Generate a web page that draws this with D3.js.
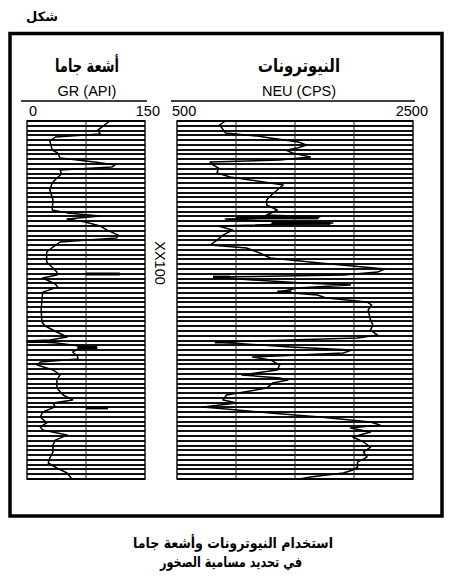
<!DOCTYPE html>
<html>
<head>
<meta charset="utf-8">
<script src="https://cdn.jsdelivr.net/npm/d3@7"></script>
<style>
  body { margin: 0; background: #fff; }
  svg { display: block; }
  .ar { font-family: "DejaVu Sans", sans-serif; font-weight: bold; }
  .lat { font-family: "Liberation Sans", Arial, sans-serif; }
</style>
</head>
<body>
<div id="chart"></div>
<script>
// depth in ft below top of the logged interval, GR in API, NEU in CPS
const grDepth = [0, 1.3, 3.8, 5.4, 6.7, 8.4, 12.2, 13.4, 15.5, 17.2, 18.4, 19.3, 20.5, 22.2, 23.9, 26, 28.9, 33.1, 37.3,
  38.5, 39.8, 41.1, 42.3, 44, 45.7, 47.8, 49, 50.7, 52.8, 54.9, 59.1, 61.6, 63.3, 64.5, 65.8, 68.3, 69.6, 71.7, 75,
  79.2, 84.2, 85.9, 88.4, 90.5, 91.8, 92.2, 93, 94.3, 95.1, 95.5, 96.8, 98.5, 99.7, 101, 102.2, 104.3, 106.4, 108.5,
  111.9, 114.8, 116.9, 118.2, 119.8, 121.9, 124, 126.5, 128.2, 129.5, 131.6, 133.7, 135.8, 138.7, 141.2, 143.3,
  145.4, 147.5, 150];
const grValues = [105, 100, 90, 93, 36, 29, 32, 39, 42, 86, 112, 108, 42, 44, 38, 32, 29, 33, 32,
  51, 93, 51, 74, 93, 102, 116, 114, 42, 33, 25, 25, 33, 38, 38, 20, 36, 39, 20, 19,
  18, 19, 23, 38, 51, 29, 0, 38, 67, 89, 65, 58, 64, 65, 17, 13, 33, 42, 38,
  38, 46, 58, 33, 36, 20, 17, 25, 17, 20, 51, 36, 33, 33, 29, 27,
  38, 51, 57];

const neuDepth = [0, 1.7, 2.9, 5, 6.3, 7.1, 8.8, 10.1, 11.3, 12.2, 13.4, 15.1, 16.3, 17.2, 18.4, 19.7, 21.8, 23.5,
  24.7, 26, 26.8, 28.9, 31, 33.1, 35.2, 37.3, 39.4, 40.2, 41.1, 41.9, 42.7, 44, 45.7, 47.8, 49.9, 52, 53.2, 55.3,
  57.4, 59.5, 61.2, 62, 63.3, 64.5, 65.4, 66.6, 67.9, 68.7, 70, 71.6, 72.9, 74.2, 75.8, 77.1, 79.2, 81.3, 83.4,
  85.5, 87.6, 89.7, 90.9, 92.6, 94.7, 96, 97.2, 98.9, 100.1, 102.2, 104.3, 106.4, 107.7, 108.5, 109.8, 111.9,
  114.8, 116.9, 118.2, 119.8, 121.1, 122.3, 124, 126.1, 127.4, 128.6, 130.3, 132.4, 134.5, 136.6, 138.7, 140.8,
  142.9, 145, 146.2, 147.5, 149.2, 150];
const neuValues = [910, 860, 880, 910, 1180, 1290, 1530, 1600, 1520, 1420, 1480, 1630, 1370, 780, 805, 850, 840, 950,
  1120, 1290, 1400, 1350, 1300, 1260, 1260, 1350, 1260, 1710, 910, 1220, 1820, 850, 970, 890, 840, 780, 1090, 1200,
  1290, 1710, 2080, 2260, 2200, 1910, 810, 1140, 1570, 1970, 1520, 1370, 1690, 1770, 2110, 2150, 2120, 2130, 2140,
  2160, 2140, 2200, 2030, 850, 1460, 1980, 1910, 1140, 1290, 1370, 1350, 1050, 1370, 1440, 1310, 1260,
  920, 890, 1010, 720, 1010, 1290, 1710, 2140, 2220, 1970, 2140, 1990, 2080, 2140, 2080, 2110,
  2030, 2030, 1990, 1910, 1630, 1540];

// heavy ink streaks on the log: [depth, from, to]
const grBars = [[64.1, 75, 118], [92.4, 0, 38], [94.9, 64, 89], [120.2, 75, 103]];
const neuBars = [[40.6, 1000, 1700], [42.9, 1300, 1800], [65.4, 805, 950], [71.6, 1350, 1470], [92.6, 820, 980]];

const grTicks = [0, 150];
const neuTicks = [500, 2500];
const grGrid = [75];
const neuGrid = [1000, 1500, 2000];
const depthLines = d3.range(0, 151, 2);

const W = 454, H = 581;
const svg = d3.select("#chart").append("svg").attr("width", W).attr("height", H);
svg.append("rect").attr("width", W).attr("height", H).attr("fill", "#fff");

const y = d3.scaleLinear().domain([0, 150]).range([121, 479]);
const xGR = d3.scaleLinear().domain([0, 150]).range([27, 145]);
const xNEU = d3.scaleLinear().domain([500, 2500]).range([177, 413]);

// outer frame
svg.append("rect").attr("x", 10).attr("y", 33.5).attr("width", 432).attr("height", 482.5)
  .attr("fill", "none").attr("stroke", "#000").attr("stroke-width", 3.5);

svg.append("text").attr("class", "ar").attr("x", 58).attr("y", 21).attr("text-anchor", "end")
  .attr("font-size", 13).text("شكل");

function track(x, values, depths, ticks, grid, bars, title, titleW, unit, cx, tickShift) {
  const g = svg.append("g");
  const [x0, x1] = x.range();

  g.append("text").attr("class", "ar").attr("x", cx).attr("y", 72).attr("text-anchor", "middle")
    .attr("font-size", 18).attr("textLength", titleW).attr("lengthAdjust", "spacingAndGlyphs").text(title);
  g.append("text").attr("class", "lat").attr("x", cx).attr("y", 96).attr("text-anchor", "middle")
    .attr("font-size", 14.5).text(unit);
  g.append("line").attr("x1", x0 - 6).attr("x2", x1 + 2).attr("y1", 101).attr("y2", 101)
    .attr("stroke", "#000").attr("stroke-width", 1.5);

  g.selectAll(".tk").data(ticks).join("text").attr("class", "lat")
    .attr("x", (d, i) => i === 0 ? x(d) + tickShift : x(d) + 15)
    .attr("y", 116).attr("font-size", 14.5)
    .attr("text-anchor", (d, i) => i === 0 ? "start" : "end").text(d => d);

  g.selectAll(".hl").data(depthLines).join("line")
    .attr("x1", x0).attr("x2", x1)
    .attr("y1", d => Math.round(y(d))).attr("y2", d => Math.round(y(d)))
    .attr("stroke", "#111").attr("stroke-width", 2).attr("shape-rendering", "crispEdges");

  g.selectAll(".vl").data(grid).join("line")
    .attr("x1", d => x(d)).attr("x2", d => x(d)).attr("y1", y(0)).attr("y2", y(150))
    .attr("stroke", "#222").attr("stroke-width", 1);

  g.append("rect").attr("x", x0).attr("y", y(0)).attr("width", x1 - x0).attr("height", y(150) - y(0))
    .attr("fill", "none").attr("stroke", "#000").attr("stroke-width", 1.4);

  g.selectAll(".bar").data(bars).join("rect")
    .attr("x", d => x(d[1])).attr("width", d => x(d[2]) - x(d[1]))
    .attr("y", d => y(d[0]) - 1.5).attr("height", 3).attr("fill", "#000");

  const line = d3.line().x(d => x(d[1])).y(d => y(d[0]));
  g.append("path").datum(depths.map((d, i) => [d, values[i]]))
    .attr("d", line).attr("fill", "none").attr("stroke", "#000").attr("stroke-width", 1.5)
    .attr("stroke-linejoin", "round");
}

track(xGR, grValues, grDepth, grTicks, grGrid, grBars, "أشعة جاما", 64, "GR (API)", 87, 2);
track(xNEU, neuValues, neuDepth, neuTicks, neuGrid, neuBars, "النيوترونات", 82, "NEU (CPS)", 299, -5);

svg.append("text").attr("class", "lat").attr("font-size", 14.5)
  .attr("transform", "translate(155,263) rotate(90)").attr("text-anchor", "middle").text("XX100");

svg.append("text").attr("class", "ar").attr("x", 233).attr("y", 548).attr("text-anchor", "middle")
  .attr("font-size", 14.5).attr("textLength", 200).attr("lengthAdjust", "spacingAndGlyphs")
  .text("استخدام النيوترونات وأشعة جاما");
svg.append("text").attr("class", "ar").attr("x", 231).attr("y", 567).attr("text-anchor", "middle")
  .attr("font-size", 14.5).attr("textLength", 142).attr("lengthAdjust", "spacingAndGlyphs")
  .text("في تحديد مسامية الصخور");
</script>
</body>
</html>
